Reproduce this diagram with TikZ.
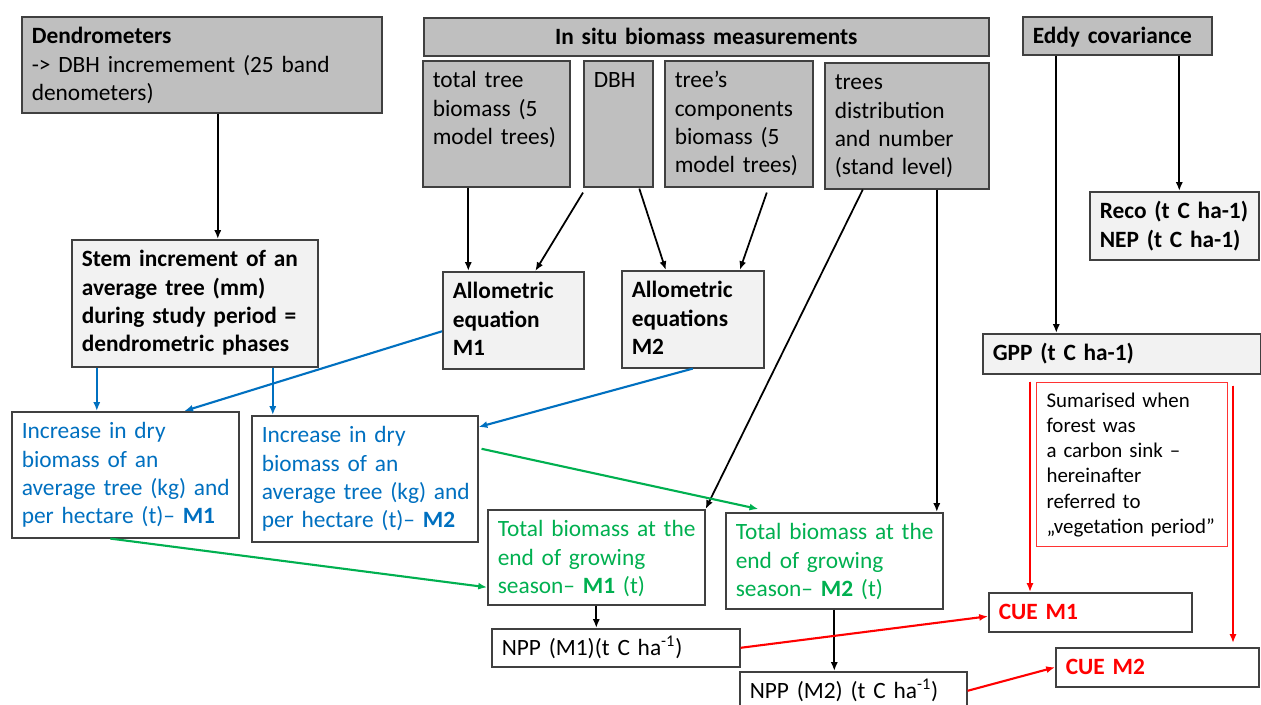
\documentclass[tikz,border=0pt]{standalone}
\usepackage{fontspec}
\setmainfont{Carlito}
\usepackage{tikz}
\usetikzlibrary{arrows.meta,calc}

\hyphenpenalty=10000
\exhyphenpenalty=10000

\definecolor{darkfill}{HTML}{BFBFBF}
\definecolor{lightfill}{HTML}{F2F2F2}
\definecolor{edge}{HTML}{404040}
\definecolor{bluetxt}{HTML}{0070C0}
\definecolor{greentxt}{HTML}{00B050}
\definecolor{redtxt}{HTML}{FF0000}

\newcommand{\mainsize}{\fontsize{13.3}{16.1}\selectfont}
\newcommand{\notesize}{\fontsize{11.9}{14.3}\selectfont}

\tikzset{
  cell/.style 2 args={anchor=north west, inner xsep=0.2cm, inner ysep=0pt,
    text width=#1*0.02cm-0.4cm, text height=0.54cm, text depth=#2*0.02cm-0.54cm,
    align=left, font=\mainsize, draw=edge, line width=0.9pt},
  dark/.style={fill=darkfill},
  light/.style={fill=lightfill},
  plain/.style={fill=white},
  arr/.style={-{Latex[length=5pt,width=4pt]}, line width=1pt},
  bluearr/.style={arr, draw=bluetxt, fill=bluetxt, line width=1.2pt},
  greenarr/.style={arr, draw=greentxt, fill=greentxt, line width=1.2pt},
  redarr/.style={arr, draw=redtxt, fill=redtxt, line width=1.2pt}
}

\begin{document}
\begin{tikzpicture}[x=0.02cm, y=-0.02cm]

\useasboundingbox (0,0) rectangle (1261,704);
\fill[white] (0,0) rectangle (1261,704);
\clip (0,0) rectangle (1261,704);

% Measurements
\node[cell={360}{96}, dark] (dend) at (21,16)
  {\textbf{Dendrometers}\\-> DBH incremement (25 band\\denometers)};
\node[cell={565}{38}, dark, align=center] (insitu) at (423,17)
  {\textbf{In situ biomass measurements}};
\node[cell={147}{126}, dark] (tot) at (422,60)
  {total tree\\biomass (5\\model~trees)};
\node[cell={69}{126}, dark] (dbh) at (583,60) {DBH};
\node[cell={148}{126}, dark] (comp) at (664,60)
  {tree’s\\components\\biomass (5\\model~trees)};
\node[cell={164}{126}, dark] (dist) at (824,62)
  {trees\\distribution\\and number\\(stand~level)};
\node[cell={189}{38}, dark] (eddy) at (1022,16) {\textbf{Eddy covariance}};

% Derived quantities
\node[cell={246}{127}, light, font=\mainsize\bfseries] (stem) at (71,239)
  {Stem increment of an\\average tree (mm)\\during study period =\\dendrometric phases};
\node[cell={141}{97}, light, font=\mainsize\bfseries] (am1) at (442,271)
  {Allometric\\equation\\M1};
\node[cell={142}{97}, light, font=\mainsize\bfseries] (am2) at (621,270)
  {Allometric\\equations\\M2};
\node[cell={169}{68}, light, font=\mainsize\bfseries] (reco) at (1089,191)
  {Reco (t C ha-1)\\NEP (t C ha-1)};
\node[cell={278}{40}, light, font=\mainsize\bfseries] (gpp) at (982,333)
  {GPP (t C ha-1)};

% Biomass increments
\node[cell={227}{126}, plain, text=bluetxt] (inc1) at (11,411)
  {Increase in dry\\biomass of an\\average~tree~(kg)~and\\per hectare (t)– \textbf{M1}};
\node[cell={226}{126}, plain, text=bluetxt] (inc2) at (251,415)
  {Increase in dry\\biomass of an\\average~tree~(kg)~and\\per hectare (t)– \textbf{M2}};
\node[cell={217}{95}, plain, text=greentxt] (tm1) at (487,509)
  {Total~biomass~at~the\\end of growing\\season– \textbf{M1} (t)};
\node[cell={217}{96}, plain, text=greentxt] (tm2) at (725,512)
  {Total~biomass~at~the\\end of growing\\season– \textbf{M2} (t)};
\node[cell={248}{38}, plain] (npp1) at (491,628)
  {NPP (M1)(t C ha\textsuperscript{-1})};
\node[cell={227}{38}, plain] (npp2) at (739,671)
  {NPP (M2) (t C ha\textsuperscript{-1})};

% Carbon use efficiency
\node[cell={191}{164}, plain, draw=redtxt!80, line width=0.6pt, font=\notesize,
  text height=0.5cm, text depth=164*0.02cm-0.5cm] (sum) at (1036,382)
  {Sumarised when\\forest was\\a carbon sink –\\hereinafter\\referred to\\„vegetation period”};
\node[cell={203}{39}, plain, text=redtxt, font=\mainsize\bfseries] (cue1) at (988,592) {CUE M1};
\node[cell={203}{39}, plain, text=redtxt, font=\mainsize\bfseries] (cue2) at (1055,647) {CUE M2};

% Black connectors
\draw[arr] ($(dend.south)+(16,0)$) coordinate (d1) -- (d1 |- stem.north);
\draw[arr] ($(tot.south)+(-28,0)$) coordinate (t1) -- (t1 |- am1.north);
\draw[arr] ($(dbh.south west)+(0,5)$) -- ($(am1.north)+(22,0)$);
\draw[arr] ($(dbh.south)+(21,1)$) -- ($(am2.north)+(-27,0)$);
\draw[arr] ($(comp.south)+(28,5)$) -- ($(am2.north)+(47,0)$);
\draw[arr] ($(dist.south)+(-44,0)$) -- (tm1.north east);
\draw[arr] ($(dist.south)+(30,0)$) coordinate (t2) -- (t2 |- tm2.north);
\draw[arr] ($(eddy.south)+(-61,0)$) coordinate (e1) -- (e1 |- gpp.north);
\draw[arr] ($(eddy.south)+(62,0)$) coordinate (e2) -- (e2 |- reco.north);
\draw[arr] (tm1.south) -- (tm1.south |- npp1.north);
\draw[arr] (tm2.south) -- (tm2.south |- npp2.north);

% Blue connectors
\draw[bluearr] ($(stem.south)+(-98,0)$) coordinate (s1) -- (s1 |- inc1.north);
\draw[bluearr] ($(stem.south)+(78,0)$) coordinate (s2) -- (s2 |- inc2.north);
\draw[bluearr] ($(am1.west)+(0,11)$) -- ($(inc1.north)+(59,0)$);
\draw[bluearr] (am2.south) -- ($(inc2.north east)+(0,12)$);

% Green connectors
\draw[greenarr] ($(inc1.south)+(-15,0)$) -- ($(tm1.west)+(0,30)$);
\draw[greenarr] ($(inc2.east)+(3,-30)$) -- ($(tm2.north)+(-76,-3)$);

% Red connectors
\draw[redarr] ($(gpp.south west)+(48,7)$) coordinate (g1) -- (g1 |- cue1.north);
\draw[redarr] ($(gpp.south west)+(251,11)$) coordinate (g2) -- ($(g2 |- cue2.north)+(0,-4)$);
\draw[redarr] (npp1.east) -- ($(cue1.west)+(0,4)$);
\draw[redarr] (npp2.east) -- (cue2.west);

\end{tikzpicture}
\end{document}
